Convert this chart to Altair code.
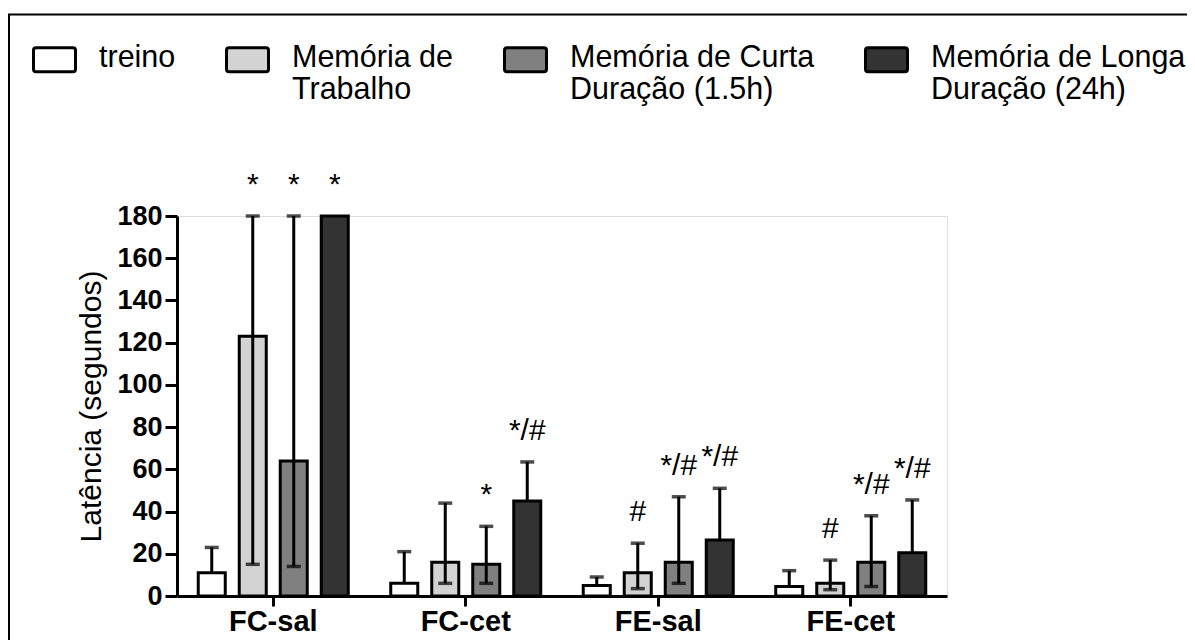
import altair as alt
import pandas as pd

groups = ["FC-sal", "FC-cet", "FE-sal", "FE-cet"]
series = ["treino", "Memória de\nTrabalho", "Memória de Curta\nDuração (1.5h)", "Memória de Longa\nDuração (24h)"]
colors = ["#ffffff", "#d3d3d3", "#808080", "#333333"]

# bar heights (latency, s) per group, for each series
treino = [11, 6, 5, 4.5]
trabalho = [123, 16, 11, 6]
curta = [64, 15, 16, 16]
longa = [180, 45, 26.5, 20.5]

# upper / lower ends of the error bars (None = not drawn)
treino_hi = [23, 21, 9, 12]
trabalho_hi = [180, 44, 25, 17]
curta_hi = [180, 33, 47, 38]
longa_hi = [None, 63.5, 51, 45.5]

treino_lo = [None, None, None, None]
trabalho_lo = [15, 6, 3.5, 3]
curta_lo = [14, 6, 6, 4.5]
longa_lo = [None, None, None, None]

# significance marks
treino_sig = ["", "", "", ""]
trabalho_sig = ["*", "", "#", "#"]
curta_sig = ["*", "*", "*/#", "*/#"]
longa_sig = ["*", "*/#", "*/#", "*/#"]

vals = [treino, trabalho, curta, longa]
his = [treino_hi, trabalho_hi, curta_hi, longa_hi]
los = [treino_lo, trabalho_lo, curta_lo, longa_lo]
sigs = [treino_sig, trabalho_sig, curta_sig, longa_sig]

rows = []
for j, s in enumerate(series):
    for i, g in enumerate(groups):
        rows.append({"group": g, "series": s, "value": vals[j][i],
                     "hi": his[j][i], "lo": los[j][i], "sig": sigs[j][i]})
df = pd.DataFrame(rows)

err = df[df["hi"].notna()].copy()
err["start"] = err["lo"].fillna(err["value"])
lowcap = df[df["lo"].notna()].copy()
sigdf = df[df["sig"] != ""].copy()
sigdf["ypos"] = sigdf["hi"].fillna(sigdf["value"])

FONT = "Liberation Sans"

xenc = alt.X("group:N", sort=groups, scale=alt.Scale(paddingInner=0, paddingOuter=0),
             axis=alt.Axis(title=None, labelAngle=0, labelFont=FONT, labelFontSize=29,
                           labelFontWeight="bold", labelColor="black", tickSize=10,
                           tickWidth=3, tickColor="black", domainWidth=3,
                           domainColor="black", labelPadding=1))
xoff = alt.XOffset("series:N", sort=series,
                   scale=alt.Scale(paddingInner=0.341, paddingOuter=0.518))
yscale = alt.Scale(domain=[0, 180], nice=False)
yaxis = alt.Axis(title="Latência (segundos)", values=list(range(0, 181, 20)),
                 labelFont=FONT, labelFontSize=27, labelFontWeight="bold",
                 labelColor="black", tickSize=12, tickWidth=3, tickColor="black",
                 domainWidth=3, domainColor="black", labelPadding=3, grid=False,
                 titleFont=FONT, titleFontSize=30, titleFontWeight="normal",
                 titleColor="black", titleX=-86, titleY=190, titleAlign="center",
                 titleBaseline="middle", titleAngle=270)

# rounded box symbol, raised a little so that it sits on the first label line
SYMBOL = ("M-0.88,-0.9H0.88Q1,-0.9 1,-0.78V0.12Q1,0.24 0.88,0.24"
          "H-0.88Q-1,0.24 -1,0.12V-0.78Q-1,-0.9 -0.88,-0.9Z")

bars = alt.Chart(df).mark_bar(stroke="black", strokeWidth=3).encode(
    x=xenc, xOffset=xoff,
    y=alt.Y("value:Q", scale=yscale, axis=yaxis),
    color=alt.Color("series:N", sort=series,
                    scale=alt.Scale(domain=series, range=colors),
                    legend=alt.Legend(
                        title=None, orient="none", legendX=-145, legendY=-172,
                        direction="horizontal", columns=4,
                        symbolType=SYMBOL, symbolSize=1764,
                        symbolStrokeColor="black", symbolStrokeWidth=3,
                        symbolOpacity=1,
                        labelFont=FONT, labelFontSize=30.5, labelColor="black",
                        labelOffset=22, columnPadding=44, labelLimit=600,
                        labelBaseline="alphabetic",
                        labelExpr="length(split(datum.label, '\\n')) > 1 ? split(datum.label, '\\n') : [datum.label, '']",
                        padding=0)),
)

rules = alt.Chart(err).mark_rule(color="black", strokeWidth=3).encode(
    x=alt.X("group:N", sort=groups), xOffset=xoff,
    y=alt.Y("start:Q", scale=yscale), y2="hi:Q")

upcaps = alt.Chart(err).mark_tick(color="black", thickness=3.5, size=14,
                                  orient="horizontal").encode(
    x=alt.X("group:N", sort=groups), xOffset=xoff,
    y=alt.Y("hi:Q", scale=yscale))

lowcaps = alt.Chart(lowcap).mark_tick(color="black", thickness=3.5, size=14,
                                      orient="horizontal").encode(
    x=alt.X("group:N", sort=groups), xOffset=xoff,
    y=alt.Y("lo:Q", scale=yscale))

texts = alt.Chart(sigdf).mark_text(font=FONT, fontSize=30, color="black",
                                   baseline="alphabetic", dy=-22).encode(
    x=alt.X("group:N", sort=groups), xOffset=xoff,
    y=alt.Y("ypos:Q", scale=yscale), text="sig:N")

frame_df = pd.DataFrame({"k": [0]})
frame_top = alt.Chart(frame_df).mark_rule(color="black", strokeWidth=2).encode(
    x=alt.value(-169), x2=alt.value(1010), y=alt.value(-201.5))
frame_left = alt.Chart(frame_df).mark_rule(color="black", strokeWidth=2).encode(
    x=alt.value(-168), y=alt.value(-202), y2=alt.value(424))

chart = alt.layer(bars, rules, upcaps, lowcaps, texts, frame_top, frame_left).properties(
    width=770, height=380,
    padding={"left": 169, "top": 208, "right": 240, "bottom": 44},
    autosize=alt.AutoSizeParams(type="none"),
).configure_view(stroke=None).configure(background="white")

chart.save("out.html", embed_options={"renderer": "svg", "actions": False})
